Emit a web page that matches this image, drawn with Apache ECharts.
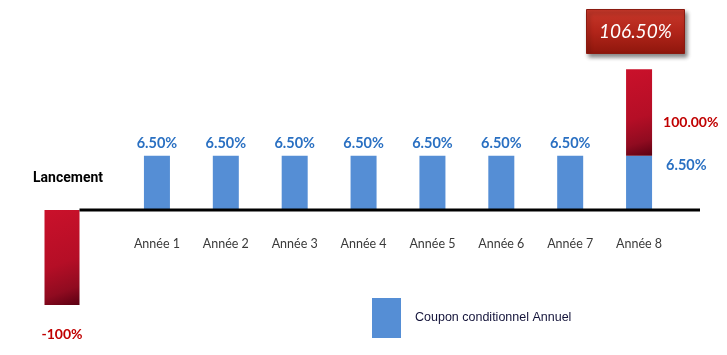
<!DOCTYPE html>
<html>
<head>
<meta charset="utf-8">
<script src="https://cdn.jsdelivr.net/npm/echarts@6/dist/echarts.min.js"></script>
<style>
html,body{margin:0;padding:0;background:#fff;}
#chart{width:727px;height:355px;}
</style>
</head>
<body>
<div id="chart"></div>
<script>
// ---- data ----
const launchCategory = ['Lancement'];
const yearCategories = ['Année 1','Année 2','Année 3','Année 4','Année 5','Année 6','Année 7','Année 8'];
// displayed values (%)
const launchPct = [-100];
const couponPct = [6.5, 6.5, 6.5, 6.5, 6.5, 6.5, 6.5, 6.5];
const redemptionPct = [null, null, null, null, null, null, null, 100];
// schematic bar heights as drawn in the picture (not to scale with the %)
const launchHeight = [-11.4];
const couponHeight = [6.5, 6.5, 6.5, 6.5, 6.5, 6.5, 6.5, 6.5];
const redemptionHeight = [null, null, null, null, null, null, null, 10.4];
const legendName = 'Coupon conditionnel Annuel';

const fmt2 = v => v.toFixed(2) + '%';
const redGrad = () => new echarts.graphic.LinearGradient(0, 0, 1, 1, [
  {offset: 0, color: '#ca112b'},
  {offset: 0.55, color: '#b50e26'},
  {offset: 0.82, color: '#900b20'},
  {offset: 1, color: '#5a0012'}
]);
const blue = '#558ed5';
const labelBlue = '#2a70c2';
const labelFont = 'Lato';

const chart = echarts.init(document.getElementById('chart'), null, {renderer: 'canvas'});
const lastIdx = couponHeight.length - 1;
const couponData = couponHeight.map((v, i) => {
  if (i === lastIdx) {
    return {value: v, label: {position: 'right', distance: 14, offset: [0, -18]}};
  }
  return {value: v};
});
const total = couponPct[lastIdx] + redemptionPct[lastIdx];

chart.setOption({
  animation: false,
  backgroundColor: '#fff',
  title: {
    text: fmt2(total),
    left: 586, top: 9,
    padding: [11, 13],
    backgroundColor: new echarts.graphic.LinearGradient(0, 0, 0, 1, [
      {offset: 0, color: '#c8392b'},
      {offset: 0.5, color: '#b2251a'},
      {offset: 1, color: '#8e160c'}
    ]),
    borderColor: '#8a1a10', borderWidth: 1,
    shadowColor: 'rgba(0,0,0,0.45)', shadowBlur: 4, shadowOffsetX: 2, shadowOffsetY: 3,
    textStyle: {color: '#fff', fontFamily: labelFont, fontStyle: 'italic', fontWeight: 'normal', fontSize: 19, lineHeight: 23}
  },
  legend: {
    data: [legendName],
    left: 372, top: 298, padding: 0,
    itemWidth: 29, itemHeight: 40,
    icon: 'rect',
    textStyle: {color: '#14143a', fontFamily: 'Liberation Sans', fontSize: 12.5, padding: [14, 0, 0, 9]}
  },
  grid: [
    {left: 27, width: 70, top: 60, height: 250},
    {left: 122.5, width: 551, top: 60, height: 250}
  ],
  xAxis: [
    {
      type: 'category', gridIndex: 0, data: launchCategory,
      axisLine: {show: false}, axisTick: {show: false},
      axisLabel: {margin: -139, color: '#000', fontFamily: 'Roboto', fontWeight: 'bold', fontSize: 14, padding: [0, 0, 0, 12]}
    },
    {
      type: 'category', gridIndex: 1, data: yearCategories,
      axisLine: {show: false}, axisTick: {show: false},
      axisLabel: {margin: -73, color: '#3a3a3a', fontFamily: labelFont, fontSize: 12.5}
    }
  ],
  yAxis: [
    {type: 'value', gridIndex: 0, min: -12, max: 18, show: false, splitLine: {show: false}},
    {type: 'value', gridIndex: 1, min: -12, max: 18, show: false, splitLine: {show: false}}
  ],
  series: [
    {
      type: 'bar', xAxisIndex: 0, yAxisIndex: 0, data: launchHeight, barWidth: 35,
      itemStyle: {color: redGrad()},
      label: {
        show: true, position: 'bottom', distance: 22,
        formatter: p => launchPct[p.dataIndex] + '%',
        color: '#c00000', fontFamily: labelFont, fontWeight: 'bold', fontSize: 14
      }
    },
    {
      name: legendName,
      type: 'bar', xAxisIndex: 1, yAxisIndex: 1, stack: 's', data: couponData, barWidth: 26,
      itemStyle: {color: blue},
      label: {
        show: true, position: 'top', distance: 5,
        formatter: p => fmt2(couponPct[p.dataIndex]),
        color: labelBlue, fontFamily: labelFont, fontWeight: 'bold', fontSize: 14.5
      }
    },
    {
      name: 'Remboursement',
      type: 'bar', xAxisIndex: 1, yAxisIndex: 1, stack: 's', data: redemptionHeight, barWidth: 26,
      itemStyle: {color: redGrad()},
      label: {
        show: true, position: 'right', distance: 11, offset: [0, 10],
        formatter: p => redemptionPct[p.dataIndex] == null ? '' : fmt2(redemptionPct[p.dataIndex]),
        color: '#c00000', fontFamily: labelFont, fontWeight: 'bold', fontSize: 14
      }
    }
  ]
});

// horizontal baseline at value 0, from the right edge of the launch bar to the right end
const y0 = chart.convertToPixel({yAxisIndex: 1}, 0);
const launchX = chart.convertToPixel({xAxisIndex: 0}, 0);
chart.setOption({
  graphic: [{
    type: 'line', z: 10,
    shape: {x1: launchX + 17.5, y1: y0, x2: 700, y2: y0},
    style: {stroke: '#000', lineWidth: 3}
  }]
});
</script>
</body>
</html>
